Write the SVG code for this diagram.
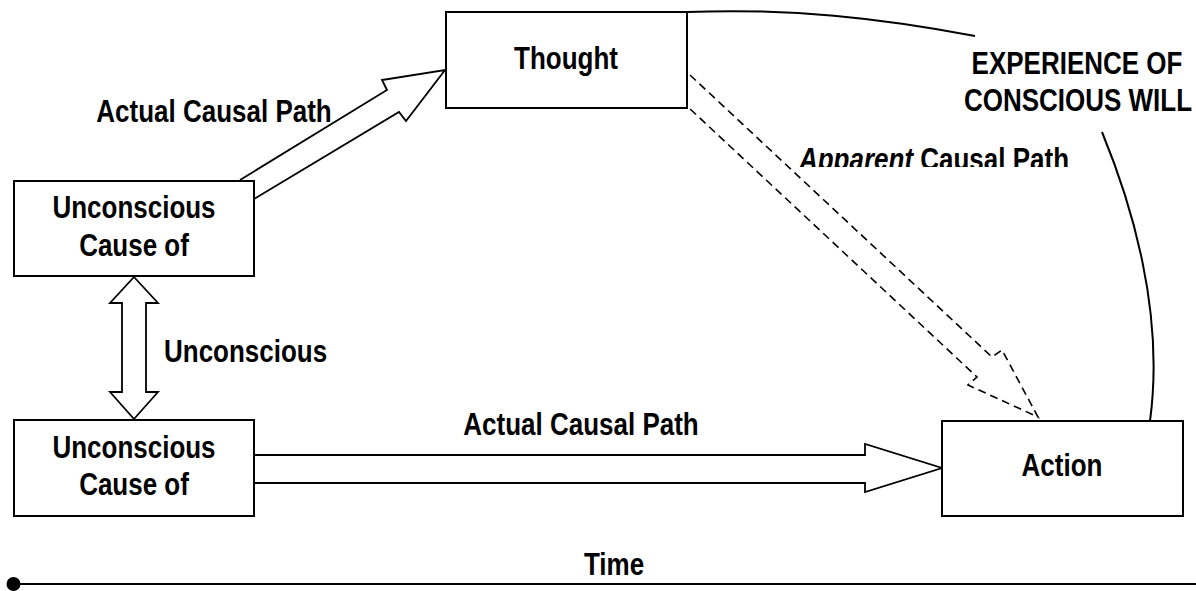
<svg xmlns="http://www.w3.org/2000/svg" width="1196" height="591" viewBox="0 0 1196 591">
<style>
  .box { fill: #ffffff; stroke: #000000; stroke-width: 2; }
  .arrow { fill: none; stroke: #000000; stroke-width: 1.8; stroke-linejoin: miter; }
  .dash { fill: none; stroke: #000000; stroke-width: 1.6; stroke-dasharray: 8 5; }
  .curve { fill: none; stroke: #000000; stroke-width: 2; }
  .t { font-family: "Liberation Sans", Arial, sans-serif; font-weight: bold; font-size: 26px; fill: #000000; text-anchor: middle; }
  .ts { text-anchor: start; }
</style>
<defs>
  <clipPath id="clipApp"><rect x="780" y="130" width="320" height="37"/></clipPath>
</defs>
<rect width="1196" height="591" fill="#ffffff"/>

<g id="connectors">
  <!-- Unconscious Cause (top) to Thought: actual causal path -->
  <polyline class="arrow" points="240,180 387,90 382,80 445,70 406,121 399,112 254,199"/>
  <!-- double vertical arrow between unconscious causes -->
  <polygon class="arrow" points="134,277 158,303 146,303 146,392 158,392 134,419 110,392 122,392 122,303 110,303"/>
  <!-- bottom actual causal path -->
  <polyline class="arrow" points="254,455 865,455 865,444 942,468 865,492 865,483 254,483"/>
  <!-- apparent causal path (dashed) -->
  <polyline class="dash" points="690,75 992,357 1002,350 1038,417 968,385 977,377 688,107"/>
  <!-- experience of conscious will brackets -->
  <path class="curve" d="M687,12 C790,8 880,18 975,36"/>
  <path class="curve" d="M1102,132 C1130,200 1165,310 1150,421"/>
  <!-- time line -->
  <line x1="14" y1="584" x2="1196" y2="584" stroke="#000" stroke-width="2.2"/>
  <ellipse cx="13.5" cy="584" rx="7" ry="7" fill="#000"/>
</g>

<g id="node-unconscious-top">
  <rect class="box" x="14" y="181" width="240" height="95"/>
  <text class="t" transform="translate(134,218) scale(1,1.18)">Unconscious</text>
  <text class="t" transform="translate(134,256) scale(1,1.18)">Cause of</text>
</g>

<g id="node-unconscious-bottom">
  <rect class="box" x="14" y="420" width="240" height="96"/>
  <text class="t" transform="translate(134,458) scale(1,1.18)">Unconscious</text>
  <text class="t" transform="translate(134,495) scale(1,1.18)">Cause of</text>
</g>

<g id="node-thought">
  <rect class="box" x="446" y="12" width="241" height="96"/>
  <text class="t" transform="translate(566,69) scale(1,1.18)">Thought</text>
</g>

<g id="node-action">
  <rect class="box" x="942" y="421" width="241" height="95"/>
  <text class="t" transform="translate(1062,476) scale(1,1.18)">Action</text>
</g>

<g id="labels">
  <text class="t" transform="translate(214,122) scale(1,1.18)">Actual Causal Path</text>
  <text class="t" transform="translate(581,435) scale(1,1.18)">Actual Causal Path</text>
  <text class="t ts" transform="translate(164,362) scale(1,1.18)">Unconscious</text>
  <g clip-path="url(#clipApp)">
    <text class="t" transform="translate(934,170) scale(1,1.18)"><tspan font-style="italic">Apparent</tspan> Causal Path</text>
  </g>
  <text class="t" transform="translate(1077,74) scale(1,1.18)">EXPERIENCE OF</text>
  <text class="t" transform="translate(1078,111) scale(1,1.18)">CONSCIOUS WILL</text>
  <text class="t" transform="translate(614,575) scale(1,1.18)">Time</text>
</g>
</svg>
